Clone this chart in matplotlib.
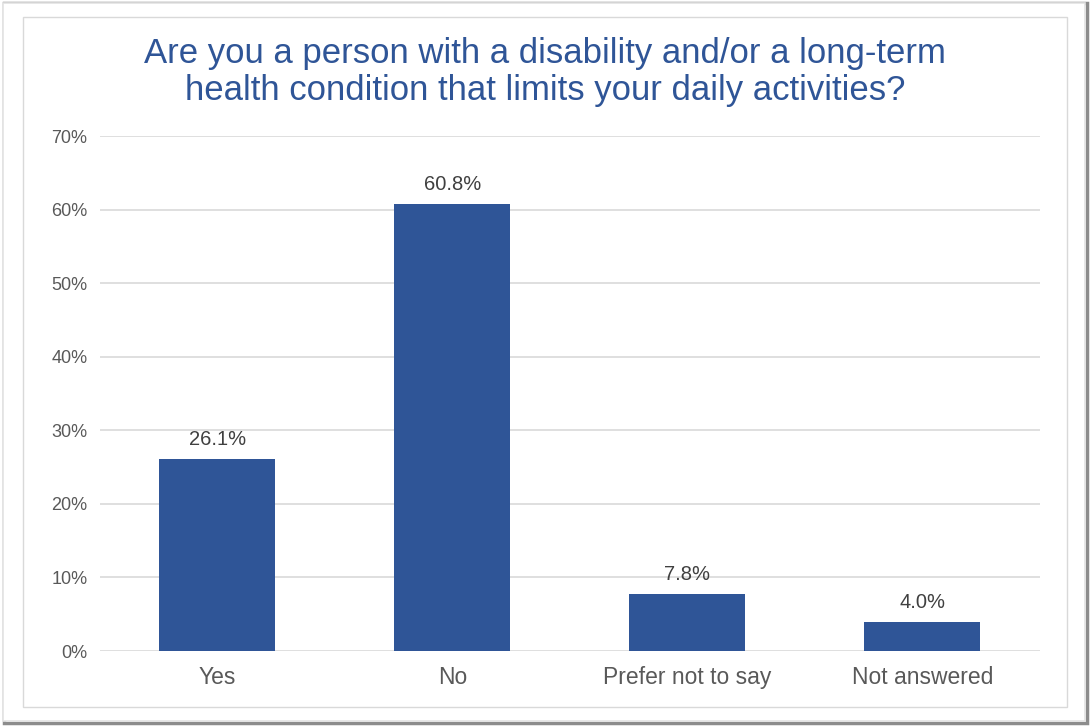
import matplotlib.pyplot as plt
from matplotlib.patches import Rectangle

categories = ["Yes", "No", "Prefer not to say", "Not answered"]
values = [26.1, 60.8, 7.8, 4.0]
y_ticks = [0, 10, 20, 30, 40, 50, 60, 70]

plt.rcParams["font.family"] = ["Liberation Sans", "DejaVu Sans"]

fig = plt.figure(figsize=(10.9, 7.27), dpi=100)

# outer frame with a bit of shadow, then the chart's own border
fig.patches.append(Rectangle((0.004, 0.006), 0.993, 0.99, transform=fig.transFigure,
                             facecolor="white", edgecolor="#8c8c8c", linewidth=2.5, zorder=-3))
fig.patches.append(Rectangle((0.003, 0.008), 0.992, 0.988, transform=fig.transFigure,
                             facecolor="white", edgecolor="#e3e3e3", linewidth=1.2, zorder=-2))
fig.patches.append(Rectangle((0.021, 0.027), 0.958, 0.95, transform=fig.transFigure,
                             facecolor="white", edgecolor="#d9d9d9", linewidth=1, zorder=-1))

ax = fig.add_axes([0.0917, 0.1045, 0.8623, 0.7084])
ax.set_facecolor("none")

x = range(len(categories))
ax.bar(x, values, width=0.494, color="#2f5597", zorder=3)

for xi, v in zip(x, values):
    ax.text(xi, v + 1.3, f"{v:.1f}%", ha="center", va="bottom",
            fontsize=14.5, color="#404040")

ax.set_xlim(-0.5, 3.5)
ax.set_ylim(0, 70)
ax.set_yticks(y_ticks)
ax.set_yticklabels([f"{t}%" for t in y_ticks], fontsize=13, color="#595959")
ax.set_xticks(list(x))
ax.set_xticklabels(categories, fontsize=16.5, color="#595959")
ax.tick_params(axis="both", length=0)
ax.tick_params(axis="y", pad=9)
ax.tick_params(axis="x", pad=11)
ax.grid(axis="y", color="#d9d9d9", linewidth=1.2, zorder=0)
for s in ax.spines.values():
    s.set_visible(False)

fig.text(0.5, 0.901, "Are you a person with a disability and/or a long-term\n"
         "health condition that limits your daily activities?",
         ha="center", va="center", fontsize=25, color="#2f5597", linespacing=1.13)

fig.savefig("out.png", dpi=100)
